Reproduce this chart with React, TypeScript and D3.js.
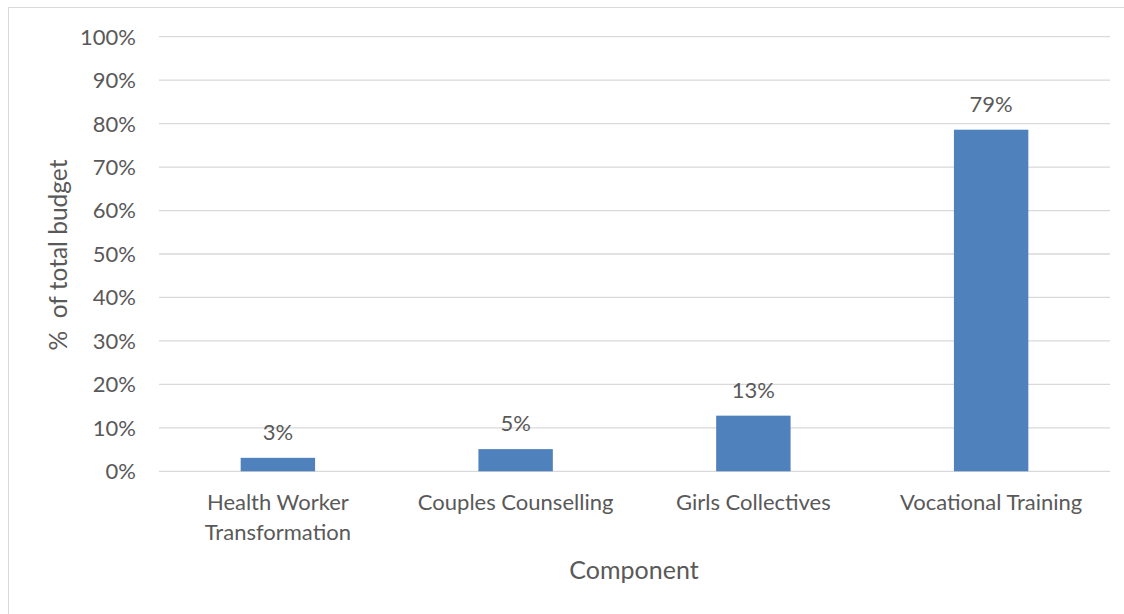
import React from "react";
import * as d3 from "d3";

const categories: string[][] = [
  ["Health Worker", "Transformation"],
  ["Couples Counselling"],
  ["Girls Collectives"],
  ["Vocational Training"],
];
const values: number[] = [0.031, 0.051, 0.128, 0.786];
const yTicks: number[] = [0, 0.1, 0.2, 0.3, 0.4, 0.5, 0.6, 0.7, 0.8, 0.9, 1.0];
const xTitle = "Component";
const yTitle = "%  of total budget";

const W = 1124;
const H = 614;
const FONT = "Lato, 'Open Sans', sans-serif";
const TEXT = "#595959";

export default function App() {
  const left = 159;
  const right = 1110;
  const top = 36.7;
  const bottom = 471.3;
  const keys = categories.map((c) => c.join(" "));
  const x = d3.scaleBand<string>().domain(keys).range([left, right]).paddingInner(0.687).paddingOuter(0.3435);
  const y = d3.scaleLinear().domain([0, 1]).range([bottom, top]);
  const fmt = d3.format(".0%");

  return (
    <svg width={W} height={H} style={{ position: "absolute", left: 0, top: 0, background: "#fff" }}>
      <rect x={8.5} y={7.5} width={W + 20} height={H + 20} fill="#fff" stroke="#d9d9d9" strokeWidth={1} />
      {yTicks.map((t) => (
        <g key={t}>
          <line x1={left} x2={right} y1={y(t)} y2={y(t)} stroke="#d9d9d9" strokeWidth={1.3} />
          <text x={136} y={y(t)} dy="0.36em" textAnchor="end" fontFamily={FONT} fontSize={22} fill={TEXT}>
            {fmt(t)}
          </text>
        </g>
      ))}
      {values.map((v, i) => {
        const k = keys[i];
        const bx = x(k)!;
        const bw = x.bandwidth();
        return (
          <g key={k}>
            <rect x={bx} y={y(v)} width={bw} height={y(0) - y(v)} fill="#4f81bd" />
            <text x={bx + bw / 2} y={y(v) - 18} textAnchor="middle" fontFamily={FONT} fontSize={22} fill={TEXT}>
              {fmt(v)}
            </text>
            {categories[i].map((line, j) => (
              <text
                key={j}
                x={bx + bw / 2}
                y={510 + j * 30}
                textAnchor="middle"
                fontFamily={FONT}
                fontSize={22}
                fill={TEXT}
              >
                {line}
              </text>
            ))}
          </g>
        );
      })}
      <text x={634} y={579} textAnchor="middle" fontFamily={FONT} fontSize={25} fill={TEXT}>
        {xTitle}
      </text>
      <text
        transform={`translate(67, 255) rotate(-90)`}
        textAnchor="middle"
        fontFamily={FONT}
        fontSize={24.5}
        fill={TEXT}
        style={{ whiteSpace: "pre" }}
      >
        {yTitle}
      </text>
    </svg>
  );
}
